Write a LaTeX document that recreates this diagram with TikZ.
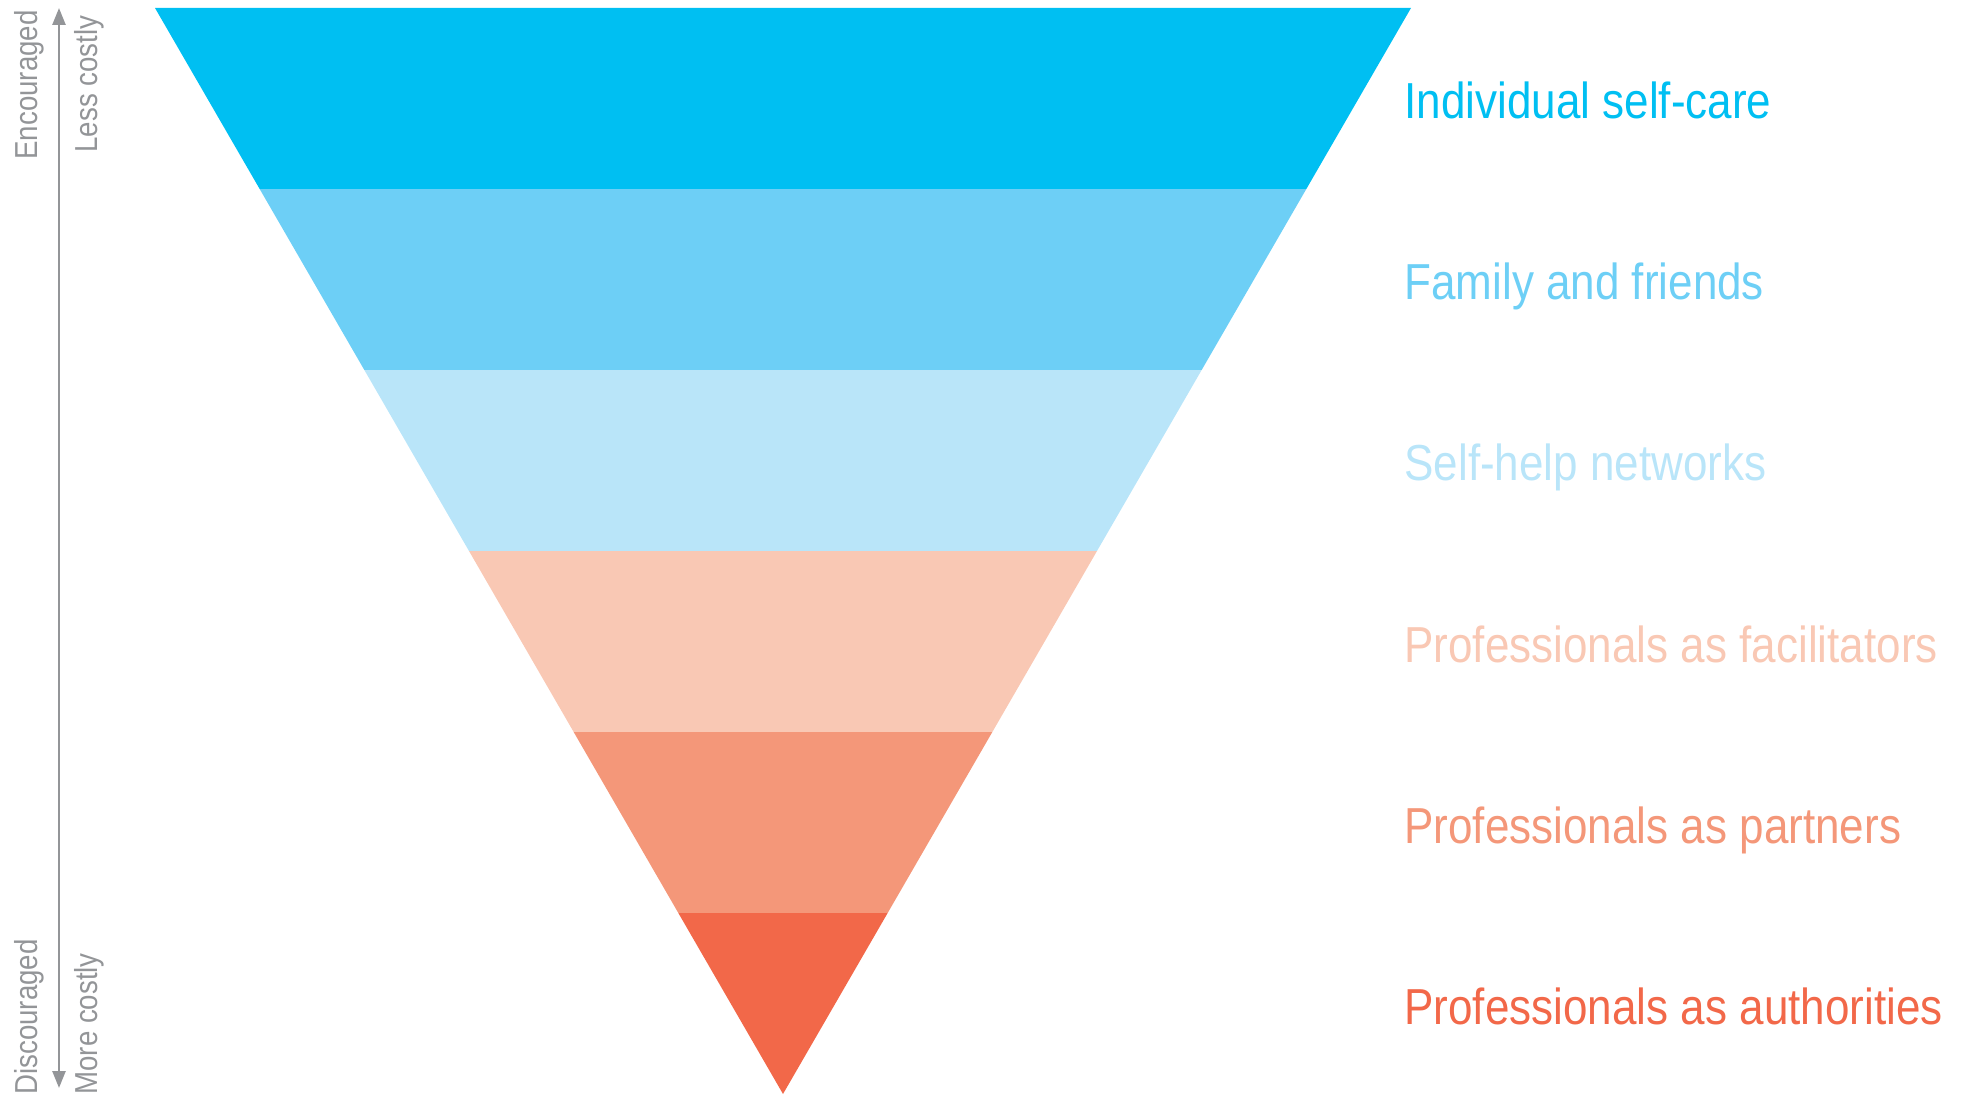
\documentclass[tikz,border=0pt]{standalone}
\usepackage{fontspec}
\setmainfont{Liberation Sans}
\newfontfamily\labfont[FakeStretch=0.87]{Liberation Sans}
\usetikzlibrary{arrows.meta}
\definecolor{cA}{HTML}{00BFF2}
\definecolor{cB}{HTML}{6DCFF6}
\definecolor{cC}{HTML}{B9E5F9}
\definecolor{cD}{HTML}{F9C8B4}
\definecolor{cE}{HTML}{F49779}
\definecolor{cF}{HTML}{F26849}
\definecolor{greyax}{HTML}{939598}
\tikzset{
  lab/.style={anchor=base west, inner sep=0pt, font=\labfont\fontsize{25.3}{30}\selectfont},
  sidelab/.style={anchor=base west, inner sep=0pt, rotate=90, text=greyax, font=\labfont\fontsize{15.9}{18}\selectfont},
}
\begin{document}
\begin{tikzpicture}[x=0.5pt,y=-0.5pt]
\useasboundingbox (0,0) rectangle (1961,1096);
\begin{scope}
\clip (155,8) -- (1411,8) -- (783,1094) -- cycle;
\fill[cA] (100,0) rectangle (1500,189);
\fill[cB] (100,189) rectangle (1500,370);
\fill[cC] (100,370) rectangle (1500,551);
\fill[cD] (100,551) rectangle (1500,732);
\fill[cE] (100,732) rectangle (1500,913);
\fill[cF] (100,913) rectangle (1500,1100);
\end{scope}
\node[lab, text=cA] (l1) at (1404,119) {Individual self-care};
\node[lab, text=cB] (l2) at (1404,300) {Family and friends};
\node[lab, text=cC] (l3) at (1404,481) {Self-help networks};
\node[lab, text=cD] (l4) at (1404,662) {Professionals as facilitators};
\node[lab, text=cE] (l5) at (1404,843) {Professionals as partners};
\node[lab, text=cF] (l6) at (1404,1024) {Professionals as authorities};
\coordinate (atop) at (59,8);
\coordinate (abot) at (59,1088);
\draw[greyax, line width=1.25pt, {Triangle[length=8.5pt,width=6.5pt]}-{Triangle[length=8.5pt,width=6.5pt]}] (abot) -- (atop);
\node[sidelab] (enc) at (37,160) {Encouraged};
\node[sidelab] (less) at (97,153) {Less costly};
\node[sidelab] (dis) at (37,1095) {Discouraged};
\node[sidelab] (more) at (97,1095) {More costly};
\end{tikzpicture}
\end{document}
